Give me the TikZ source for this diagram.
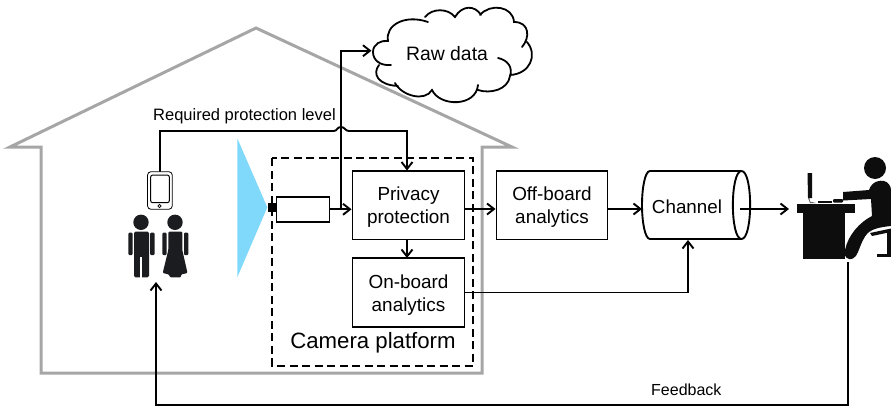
\documentclass[tikz,border=0pt]{standalone}
\usepackage{fontspec}
\setmainfont{Liberation Sans}
\usetikzlibrary{arrows.meta,shapes.geometric}
\definecolor{silh}{RGB}{27,28,31}
\definecolor{conec}{RGB}{128,216,250}
\newcommand{\lowerstrut}{\rule{0pt}{18pt}}
\tikzset{
 x=1pt,y=-1pt,
 conn/.style={line width=1.9pt,-{Straight Barb[length=7pt,width=11pt,line width=1.9pt]},line join=miter},
 box/.style={draw,line width=1.9pt,fill=white,inner sep=0,align=center,font=\fontsize{18.9}{23}\selectfont},
 house/.style={draw=black!35,line width=3pt,line join=miter},
 sil/.style={fill=silh,draw=none},
 wrk/.style={fill=black!95,draw=none},
 lab/.style={inner sep=0,font=\fontsize{16}{19}\selectfont},
}
\begin{document}
\begin{tikzpicture}
\useasboundingbox (0,0) rectangle (891,407);
% house
\draw[house] (41,147) -- (10,147) -- (256,28) -- (512,147) -- (482,147) -- (482,373) -- (41,373) -- cycle;
% cone
\fill[conec] (237.3,138.3) -- (267.3,207.3) -- (237.3,277.3) -- cycle;
% camera platform
\draw[line width=1.9pt,dash pattern=on 8pt off 4.5pt] (272.3,158.3) rectangle (473,366);
\fill (267.7,203.3) rectangle (277,211.7);
% boxes
\node[box,minimum width=53pt,minimum height=25.5pt] (cam) at (303,209.3) {};
\node[box,minimum width=112pt,minimum height=68.5pt] (priv) at (408.5,205.2) {\lowerstrut Privacy\\protection};
\node[box,minimum width=112pt,minimum height=68.5pt] (onb) at (408.5,292.5) {\lowerstrut On-board\\analytics};
\node[box,minimum width=111pt,minimum height=68.5pt] (off) at (552,205.2) {\lowerstrut Off-board\\analytics};
% channel
\draw[line width=1.9pt,fill=white,line join=round] (741.5,171) -- (650,171) .. controls (645,171) and (642,188) .. (642,205) .. controls (642,222) and (645,239) .. (650,239) -- (741.5,239);
\draw[line width=1.9pt] (741.5,171) .. controls (730,171) and (730,239) .. (741.5,239) .. controls (753,239) and (753,171) .. (741.5,171);
\node[inner sep=0,font=\fontsize{18.8}{22}\selectfont] (chan) at (687,207) {Channel};
\coordinate (chw) at (642,209);
\coordinate (chr) at (740,209);
\coordinate (chb) at (688,240);
\coordinate (desk) at (789,209);
% cloud
\draw[line width=1.8pt,line cap=round]
 (391,65) .. controls (380,66) and (373,60) .. (373,52) .. controls (373,44) and (381,40) .. (388,41)
 .. controls (385,25) and (405,14) .. (428,22)
 (425,17) .. controls (432,8) and (448,8) .. (455,17)
 .. controls (462,5) and (475,5) .. (481,15)
 (480,15) .. controls (490,3) and (513,6) .. (514,22)
 .. controls (530,22) and (530,38) .. (522,47)
 (527,42) .. controls (538,55) and (530,74) .. (510,75)
 (498,58) .. controls (508,60) and (513,68) .. (510,76) .. controls (508,90) and (490,94) .. (478,90)
 (379,65) .. controls (372,74) and (378,85) .. (398,86)
 (395,83) .. controls (402,96) and (425,102) .. (432,90)
 .. controls (440,107) and (476,107) .. (478,85);
\node[inner sep=0,font=\fontsize{19.4}{22}\selectfont] (raw) at (447,54) {Raw data};
% phone
\draw[line width=0.8pt,fill=white,rounded corners=3.5pt] (147.5,171.7) rectangle (172.3,209.3);
\draw[line width=1pt,rounded corners=2pt] (150.7,175) rectangle (169.3,202.7);
\draw[line width=0.7pt] (159.5,206) circle (1.7pt);
\coordinate (phone) at (160,171.7);
% man
\fill[sil] (141,222.3) circle (7.7pt);
\fill[sil,rounded corners=1.5pt] (134,231.7) rectangle (149,277.3);
\fill[white] (140,257) rectangle (142.3,278);
\fill[sil,rounded corners=1pt] (128.3,232.7) rectangle (132.7,255);
\fill[sil,rounded corners=1pt] (150.2,232.7) rectangle (154.5,255);
% woman
\fill[sil] (175,222.3) circle (7.7pt);
\fill[sil,rounded corners=1pt] (168.3,231.7) -- (182.3,231.7) -- (182.3,250) -- (187.5,273) -- (181,274.5) -- (181,277.3) -- (170,277.3) -- (169,274.5) -- (162.7,273) -- (168.3,250) -- cycle;
\fill[sil,rounded corners=1pt] (162.3,232.7) rectangle (166.7,255);
\fill[sil,rounded corners=1pt] (184,232.7) rectangle (188.3,255);
\coordinate (people) at (156,282);
% worker
\fill[wrk] (875,168) circle (11pt);
\fill[wrk] (797,204) rectangle (855,213);
\fill[wrk] (803,213) rectangle (845,258.5);
\fill[wrk] (807.5,173) -- (812,173) -- (812,198) -- (808,198) -- cycle;
\fill[black!60] (808,198) -- (810,203) -- (816,203) -- (810,201.5) -- (809.5,198) -- cycle;
\fill[wrk] (818,201) rectangle (832,202.7);
\fill[wrk,rounded corners=1pt] (833,199) rectangle (843,202.7);
\fill[wrk] (843,192) -- (869,190) .. controls (872,181) and (880,180) .. (884,181) .. controls (888,182) and (891,186) .. (891,190) -- (891,226) .. controls (880,227) and (873,229) .. (869,232) .. controls (863,237) and (861,245) .. (858,252) .. controls (856,258) and (851,260) .. (849,259) .. controls (845,258) and (844,254) .. (845,250) .. controls (848,235) and (860,222) .. (872,216) -- (871,199) -- (843,200.5) -- cycle;
\fill[wrk] (870,233) -- (891,228.5) -- (891,232) -- (872,236) -- cycle;
\fill[wrk] (887,231) rectangle (891,255);
\fill[wrk] (877,254) rectangle (891,257);
\coordinate (wk) at (848,262);
% connectors
\coordinate (junc) at (341,209.3);
\draw[conn] (phone) -- (160,131) -- (334,131) .. controls (337,131) and (337,127) .. (341,127) .. controls (345,127) and (345,131) .. (349,131) -- (407,131) -- (407,170.5);
\draw[conn] (cam.east) -- (cam.east -| priv.west);
\draw[conn] (junc) -- (341,50.7) -- (371.5,50.7);
\draw[conn] (407,240) -- (407,258);
\draw[conn] (priv.east |- chr) -- (off.west |- chr);
\draw[conn] (off.east |- chr) -- (chw);
\draw[conn] (chr) -- (desk);
\draw[conn] (onb.east) -- (688,292.5) -- (chb);
\draw[conn] (wk) -- (848,405) -- (156,405) -- (people);
% labels
\node[inner sep=0,font=\fontsize{16.5}{19}\selectfont,anchor=base west] (req) at (153,120) {Required protection level};
\node[inner sep=0,font=\fontsize{22.2}{26}\selectfont] (camlab) at (373,343) {Camera platform};
\node[lab,anchor=base west] (fb) at (651,395) {Feedback};
\end{tikzpicture}
\end{document}
